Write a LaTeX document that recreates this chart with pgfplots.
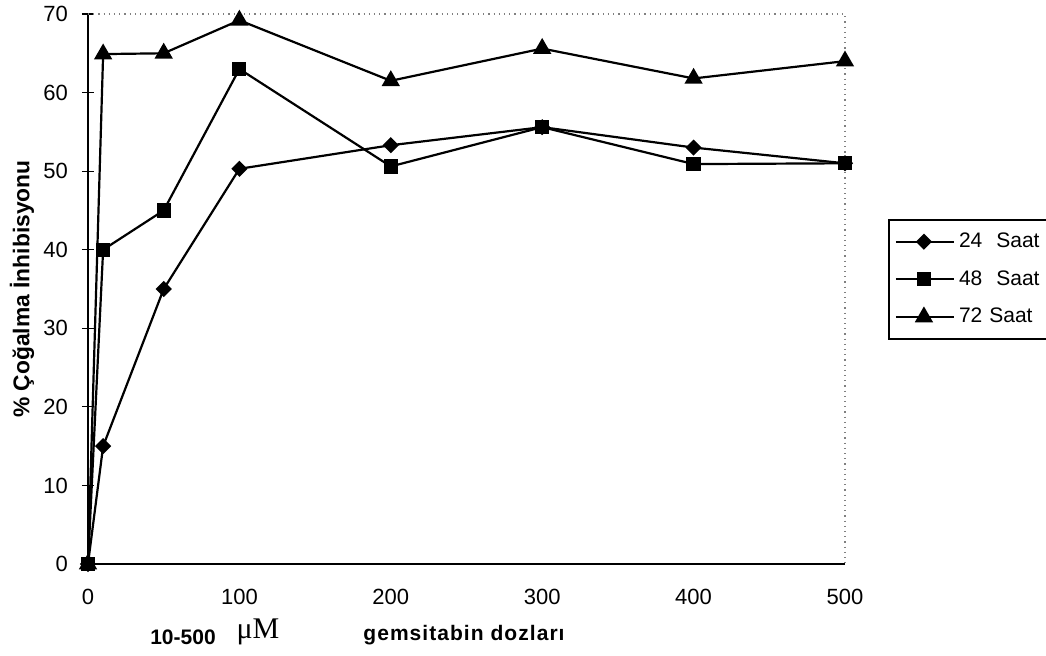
\documentclass[border=0pt]{standalone}
\usepackage{pgfplots}
\pgfplotsset{compat=1.18}
\usepackage{fontspec}
\setmainfont{Liberation Sans}
\newfontfamily\serifmu{Liberation Serif}

\begin{document}
\begin{tikzpicture}
% fixed page frame around the axis (origin = lower left corner of the plot area)
\path[use as bounding box] (-44pt,-45.5pt) rectangle (479pt,282pt);
\begin{axis}[
  scale only axis,
  width=378.5pt, height=275pt,
  xmin=0, xmax=500, ymin=0, ymax=70,
  xtick={0,100,200,300,400,500},
  ytick={0,10,...,70},
  ytick pos=left,
  /pgf/number format/assume math mode=true,
  tick label style={font=\fontsize{11}{13}\selectfont},
  major x tick style={draw=none},
  major y tick style={black, line width=0.6pt},
  tick align=center,
  major tick length=6pt,
  yticklabel style={xshift=-3.5pt},
  xticklabel style={yshift=-6pt},
  axis line style={draw=none},
  clip=false,
  ylabel={\bfseries\% Çoğalma İnhibisyonu},
  ylabel style={font=\fontsize{11.4}{13}\selectfont, at={(axis description cs:-0.087,0.5)}, anchor=center},
  legend cell align=left,
  legend style={
    at={(axis description cs:1.057,0.627)}, anchor=north west,
    draw=black, line width=0.7pt,
    font=\fontsize{10.5}{12}\selectfont,
    inner xsep=3pt, inner ysep=4.5pt,
    row sep=6pt,
    text width=40pt,
  },
  legend image code/.code={%
    \draw[mark repeat=2,mark phase=2,#1]
      plot coordinates {(0pt,0pt) (14pt,0pt) (29pt,0pt)};
  },
  every axis plot/.append style={black, line width=1.1pt},
]

% axis frame: solid left and bottom, dotted top and right
\draw[black, line width=0.8pt] (rel axis cs:0,1) -- (rel axis cs:0,0) -- (rel axis cs:1,0);
\draw[gray, dotted, line width=0.6pt] (rel axis cs:0,1) -- (rel axis cs:1,1) -- (rel axis cs:1,0);

\addplot[mark=square*, mark size=2.3pt, mark options={rotate=45, solid}]
  coordinates {(0,0) (10,15) (50,35) (100,50.3) (200,53.3) (300,55.6) (400,53) (500,51)};
\addlegendentry{24~ Saat}

\addplot[mark=square*, mark size=3pt, mark options={solid}]
  coordinates {(0,0) (10,40) (50,45) (100,63) (200,50.6) (300,55.6) (400,50.9) (500,51)};
\addlegendentry{48~ Saat}

\addplot[mark=triangle*, mark size=4.2pt, mark options={solid}]
  coordinates {(0,0) (10,64.9) (50,65) (100,69.2) (200,61.5) (300,65.6) (400,61.8) (500,64)};
\addlegendentry{72 Saat}

% the 48 h square sits on top at the origin
\addplot[only marks, mark=square*, mark size=3pt, forget plot] coordinates {(0,0)};

\end{axis}

% x-axis caption pieces
\node[font=\bfseries\fontsize{10.5}{12}\selectfont] at (47.5pt,-36.5pt) {10-500};
\node[font=\serifmu\fontsize{15}{17}\selectfont] at (85pt,-34pt) {μM};
\node[font=\bfseries\fontsize{10.5}{12}\selectfont\addfontfeatures{LetterSpace=5}] at (188pt,-35.5pt) {gemsitabin dozları};
\end{tikzpicture}
\end{document}
